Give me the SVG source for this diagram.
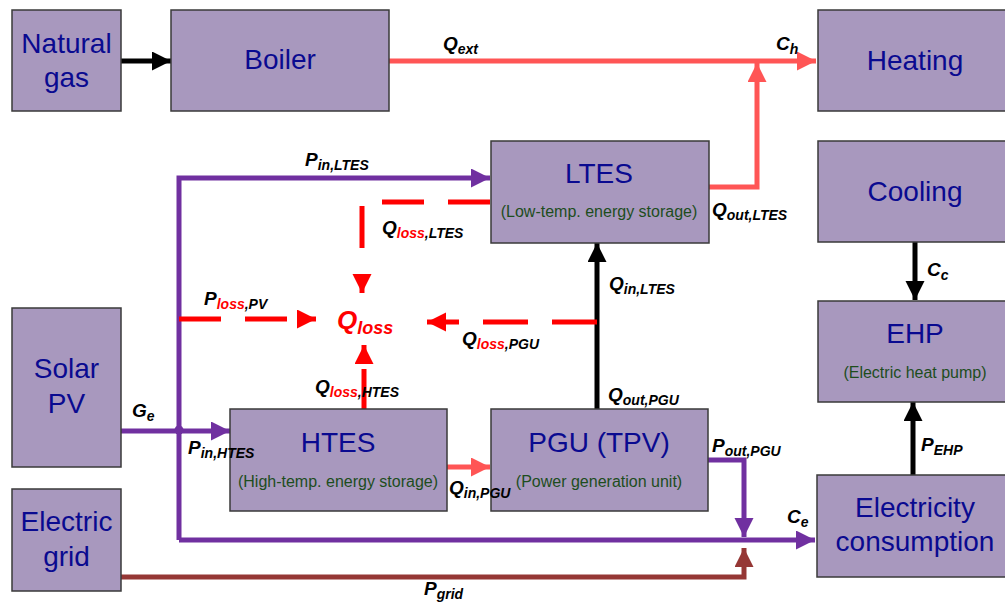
<svg xmlns="http://www.w3.org/2000/svg" width="1005" height="605" viewBox="0 0 1005 605">
<defs>
<style>
.box{fill:#A898BE;stroke:#3a3a3a;stroke-width:1.5}
.t{font-family:"Liberation Sans",Arial,sans-serif;font-size:28px;fill:#0a0a90;text-anchor:middle}
.s{font-family:"Liberation Sans",Arial,sans-serif;font-size:16px;fill:#1d4d1d;text-anchor:middle}
.lb{font-family:"Liberation Sans",Arial,sans-serif;font-size:19px;font-weight:bold;font-style:italic;fill:#000}
.sub{font-size:14px}
.rd{fill:#FF0000}
.ln{fill:none;stroke-width:5;stroke-linejoin:miter}
.pu{stroke:#7030A0}
.hr{stroke:#FF5555}
.bk{stroke:#000}
.br{stroke:#953735}
.lo{stroke:#FF0000}
.da{stroke-dasharray:42 24}
</style>
<marker id="aBk" markerUnits="userSpaceOnUse" markerWidth="20" markerHeight="20" refX="19" refY="9.5" orient="auto"><path d="M0,0 L19,9.5 L0,19 z" fill="#000"/></marker>
<marker id="aPu" markerUnits="userSpaceOnUse" markerWidth="20" markerHeight="20" refX="19" refY="9.5" orient="auto"><path d="M0,0 L19,9.5 L0,19 z" fill="#7030A0"/></marker>
<marker id="aHr" markerUnits="userSpaceOnUse" markerWidth="20" markerHeight="20" refX="19" refY="9.5" orient="auto"><path d="M0,0 L19,9.5 L0,19 z" fill="#FF5555"/></marker>
<marker id="aBr" markerUnits="userSpaceOnUse" markerWidth="20" markerHeight="20" refX="19" refY="9.5" orient="auto"><path d="M0,0 L19,9.5 L0,19 z" fill="#953735"/></marker>
<marker id="aLo" markerUnits="userSpaceOnUse" markerWidth="20" markerHeight="20" refX="19" refY="9.5" orient="auto"><path d="M0,0 L19,9.5 L0,19 z" fill="#FF0000"/></marker>
</defs>
<rect width="1005" height="605" fill="#fff"/>

<g id="connectors">
<path class="ln bk" d="M121,61 H171" marker-end="url(#aBk)"/>
<path class="ln hr" d="M389,61 H816" marker-end="url(#aHr)"/>
<path class="ln hr" d="M709,187 H757 V63" marker-end="url(#aHr)"/>
<path class="ln pu" d="M179,540 V178 H490" marker-end="url(#aPu)"/>
<path class="ln pu" d="M121,431 H230" marker-end="url(#aPu)"/>
<circle cx="179" cy="430" r="4.5" fill="#7030A0"/>
<path class="ln pu" d="M179,540 H815" marker-end="url(#aPu)"/>
<path class="ln pu" d="M708,460 H744 V537" marker-end="url(#aPu)"/>
<path class="ln br" d="M121,577 H744 V548" marker-end="url(#aBr)"/>
<path class="ln hr" d="M447,467 H490" marker-end="url(#aHr)"/>
<path class="ln bk" d="M597,409 V243" marker-end="url(#aBk)"/>
<path class="ln bk" d="M915,242 V300" marker-end="url(#aBk)"/>
<path class="ln bk" d="M913,475 V402" marker-end="url(#aBk)"/>
<path class="ln lo" d="M364,409 V369"/>
<path class="ln lo" d="M364,362 V345" stroke="none" marker-end="url(#aLo)"/>
<path class="ln lo da" d="M490,202 H362 V272"/>
<path class="ln lo" d="M362,276 V293" stroke="none" marker-end="url(#aLo)"/>
<path class="ln lo da" d="M179,319 H296"/>
<path class="ln lo" d="M298,319 H316" stroke="none" marker-end="url(#aLo)"/>
<path class="ln lo" d="M597,322 H440" stroke-dasharray="45 24"/>
<path class="ln lo" d="M445,322 H427" stroke="none" marker-end="url(#aLo)"/>
</g>

<g id="natural-gas"><rect class="box" x="12" y="10" width="109" height="101"/><text class="t" x="66.5" y="53">Natural</text><text class="t" x="66.5" y="87">gas</text></g>
<g id="boiler"><rect class="box" x="171" y="10" width="218" height="101"/><text class="t" x="280" y="69">Boiler</text></g>
<g id="heating"><rect class="box" x="818" y="10" width="194" height="101"/><text class="t" x="915" y="70">Heating</text></g>
<g id="cooling"><rect class="box" x="818" y="141" width="194" height="101"/><text class="t" x="915" y="201">Cooling</text></g>
<g id="ehp"><rect class="box" x="818" y="301" width="194" height="101"/><text class="t" x="915" y="343">EHP</text><text class="s" x="915" y="378">(Electric heat pump)</text></g>
<g id="electricity-consumption"><rect class="box" x="817" y="475" width="194" height="102"/><text class="t" x="915" y="517">Electricity</text><text class="t" x="915" y="551">consumption</text></g>
<g id="ltes"><rect class="box" x="491" y="141" width="218" height="102"/><text class="t" x="599" y="183">LTES</text><text class="s" x="599" y="217">(Low-temp. energy storage)</text></g>
<g id="htes"><rect class="box" x="230" y="409" width="217" height="102"/><text class="t" x="338" y="452">HTES</text><text class="s" x="338" y="487">(High-temp. energy storage)</text></g>
<g id="pgu"><rect class="box" x="491" y="409" width="217" height="102"/><text class="t" x="599" y="452">PGU (TPV)</text><text class="s" x="599" y="487">(Power generation unit)</text></g>
<g id="solar-pv"><rect class="box" x="12" y="308" width="109" height="159"/><text class="t" x="66.5" y="378">Solar</text><text class="t" x="66.5" y="413">PV</text></g>
<g id="electric-grid"><rect class="box" x="12" y="489" width="109" height="102"/><text class="t" x="66.5" y="531">Electric</text><text class="t" x="66.5" y="566">grid</text></g>

<g id="labels">
<text class="lb" x="443" y="50">Q<tspan class="sub" dy="4">ext</tspan></text>
<text class="lb" x="776" y="50">C<tspan class="sub" dy="4">h</tspan></text>
<text class="lb" x="305" y="166">P<tspan class="sub" dy="4">in,LTES</tspan></text>
<text class="lb" x="382" y="234">Q<tspan class="sub rd" dy="4">loss</tspan><tspan class="sub">,LTES</tspan></text>
<text class="lb" x="712" y="216">Q<tspan class="sub" dy="4">out,LTES</tspan></text>
<text class="lb" x="609" y="290">Q<tspan class="sub" dy="4">in,LTES</tspan></text>
<text class="lb" x="204" y="305">P<tspan class="sub rd" dy="4">loss</tspan><tspan class="sub">,PV</tspan></text>
<text class="lb rd" x="337" y="329" style="font-size:26px">Q<tspan dy="5" style="font-size:18px">loss</tspan></text>
<text class="lb" x="462" y="345">Q<tspan class="sub rd" dy="4">loss</tspan><tspan class="sub">,PGU</tspan></text>
<text class="lb" x="315" y="393">Q<tspan class="sub rd" dy="4">loss</tspan><tspan class="sub">,HTES</tspan></text>
<text class="lb" x="608" y="401">Q<tspan class="sub" dy="4">out,PGU</tspan></text>
<text class="lb" x="132" y="417">G<tspan class="sub" dy="4">e</tspan></text>
<text class="lb" x="188" y="454">P<tspan class="sub" dy="4">in,HTES</tspan></text>
<text class="lb" x="449" y="494">Q<tspan class="sub" dy="4">in,PGU</tspan></text>
<text class="lb" x="712" y="452">P<tspan class="sub" dy="4">out,PGU</tspan></text>
<text class="lb" x="787" y="523">C<tspan class="sub" dy="4">e</tspan></text>
<text class="lb" x="927" y="276">C<tspan class="sub" dy="4">c</tspan></text>
<text class="lb" x="921" y="451">P<tspan class="sub" dy="4">EHP</tspan></text>
<text class="lb" x="424" y="595">P<tspan class="sub" dy="4">grid</tspan></text>
</g>
</svg>
